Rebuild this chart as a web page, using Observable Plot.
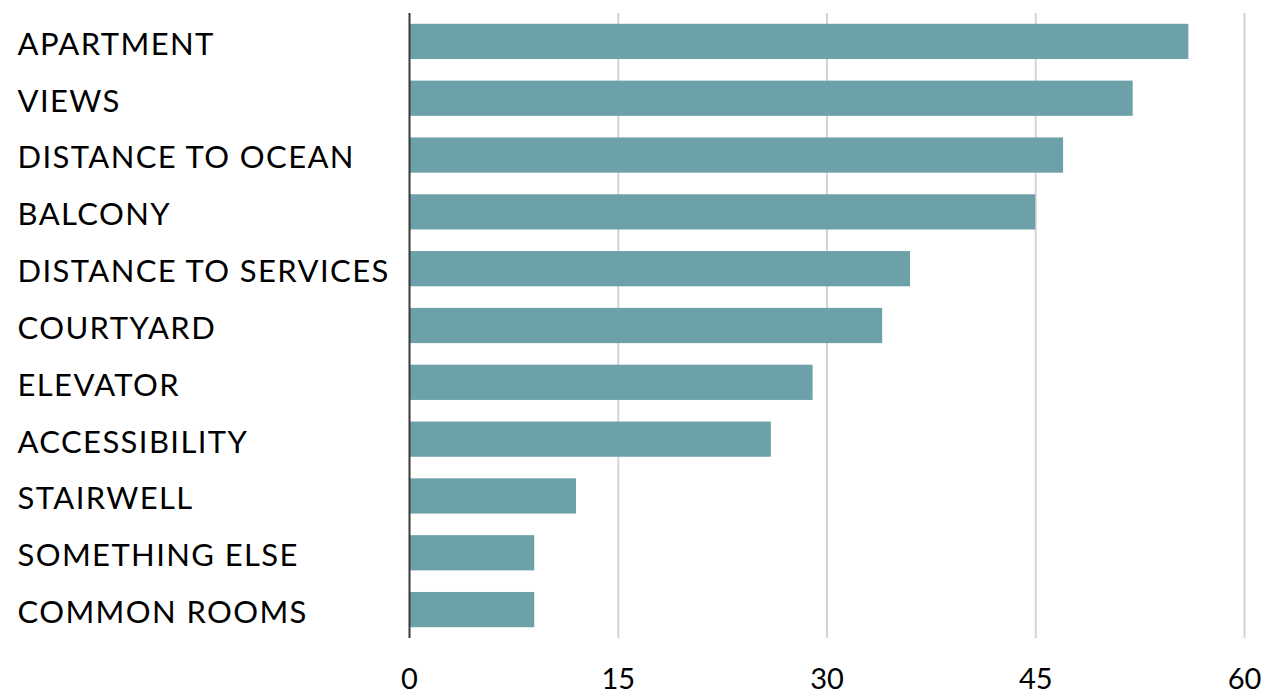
<!DOCTYPE html>
<html>
<head>
<meta charset="utf-8">
<script src="https://cdn.jsdelivr.net/npm/d3@7"></script>
<script src="https://cdn.jsdelivr.net/npm/@observablehq/plot@0.6"></script>
<style>
  html, body { margin: 0; padding: 0; background: #fff; }
  svg { display: block; }
  g[aria-label="text"] text { letter-spacing: 1.4px; }
</style>
</head>
<body>
<div id="chart"></div>
<script>
const categories = ["APARTMENT", "VIEWS", "DISTANCE TO OCEAN", "BALCONY", "DISTANCE TO SERVICES", "COURTYARD", "ELEVATOR", "ACCESSIBILITY", "STAIRWELL", "SOMETHING ELSE", "COMMON ROOMS"];
const values = [56, 52, 47, 45, 36, 34, 29, 26, 12, 9, 9];
const xTicks = [0, 15, 30, 45, 60];

const data = categories.map((c, i) => ({category: c, value: values[i]}));

const chart = Plot.plot({
  width: 1268,
  height: 695,
  marginLeft: 409,
  marginRight: 24,
  marginTop: 13,
  marginBottom: 57,
  style: {fontFamily: "Lato, 'Open Sans', sans-serif", fontSize: "28px", color: "#000", background: "#fff"},
  x: {domain: [0, 60], ticks: xTicks, label: null},
  y: {domain: categories, paddingInner: 0.38, paddingOuter: 0.19, round: false, label: null, axis: null},
  marks: [
    Plot.ruleX(xTicks.filter(d => d > 0), {stroke: "#d4d4d4", strokeWidth: 2}),
    Plot.barX(data, {y: "category", x: "value", fill: "#6da1aa"}),
    Plot.ruleX([0], {stroke: "#3a3a3a", strokeWidth: 2}),
    Plot.axisX({ticks: xTicks, tickSize: 0, tickPadding: 30, fontSize: 29, label: null, anchor: "bottom"}),
    Plot.text(data, {y: "category", text: "category", frameAnchor: "left", textAnchor: "start", dx: -392, dy: 3, fontSize: 31, fill: "#000"})
  ]
});
document.getElementById("chart").appendChild(chart);
</script>
</body>
</html>
